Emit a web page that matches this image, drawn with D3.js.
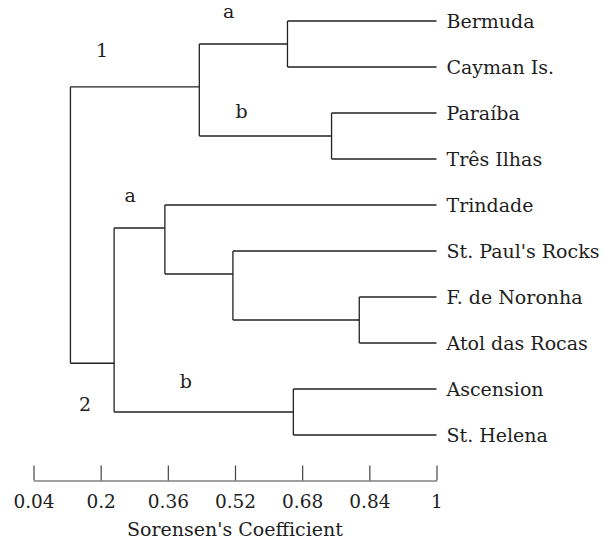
<html>
  <head>
    <meta charset="utf-8">
    <script src="https://d3js.org/d3.v7.min.js"></script>
    <style>
      body {margin:0; background:white;}
      text {font-family: "DejaVu Serif", serif; fill:#1e1e1e;}
    </style>
  </head>
  <body>
    <div id="chart1"></div>
    <script>
      // leaves, top to bottom
      var leaves = ["Bermuda", "Cayman Is.", "Paraíba", "Três Ilhas", "Trindade",
                    "St. Paul's Rocks", "F. de Noronha", "Atol das Rocas", "Ascension", "St. Helena"];

      // internal nodes: children, similarity at join, row position of the join
      var nodeIds   = ["n1a", "n1b", "n1", "nFN", "nSP", "n2a", "n2b", "n2", "root"];
      var nodeKids  = [["Bermuda", "Cayman Is."], ["Paraíba", "Três Ilhas"], ["n1a", "n1b"],
                       ["F. de Noronha", "Atol das Rocas"], ["St. Paul's Rocks", "nFN"],
                       ["Trindade", "nSP"], ["Ascension", "St. Helena"], ["n2a", "n2b"], ["n1", "n2"]];
      var nodeSim   = [0.645, 0.750, 0.435, 0.816, 0.515, 0.353, 0.659, 0.232, 0.128];
      var nodeRow   = [0.5, 2.5, 1.43, 6.5, 5.5, 4.5, 8.5, 7.44, 4.5];

      // group labels
      var groupText = ["a", "1", "b", "a", "b", "2"];
      var groupSim  = [0.505, 0.203, 0.5355, 0.27, 0.403, 0.163];
      var groupRow  = [-0.06, 0.776, 2.115, 3.93, 7.985, 8.47];

      var tickValues = [0.04, 0.2, 0.36, 0.52, 0.68, 0.84, 1];
      var axisTitle = "Sorensen's Coefficient";

      var width = 604, height = 545;

      var svg = d3.select("#chart1")
        .append("svg")
          .attr("width", width)
          .attr("height", height);

      var x = d3.scaleLinear()
        .domain([0.04, 1])
        .range([33.5, 436.5]);

      var y = d3.scaleLinear()
        .domain([0, leaves.length - 1])
        .range([21, 435]);

      // lookup: name -> {sim, row}
      var pos = {};
      leaves.forEach(function(d, i){ pos[d] = {sim: 1, row: i}; });
      nodeIds.forEach(function(d, i){ pos[d] = {sim: nodeSim[i], row: nodeRow[i]}; });

      var links = svg.append("g")
        .attr("stroke", "#222")
        .attr("stroke-width", 1.3)
        .attr("fill", "none");

      nodeIds.forEach(function(id, i){
        var rows = nodeKids[i].map(function(k){ return pos[k].row; });
        links.append("line")
          .attr("x1", x(nodeSim[i])).attr("x2", x(nodeSim[i]))
          .attr("y1", y(d3.min(rows))).attr("y2", y(d3.max(rows)));
        nodeKids[i].forEach(function(k){
          links.append("line")
            .attr("x1", x(nodeSim[i])).attr("x2", x(pos[k].sim))
            .attr("y1", y(pos[k].row)).attr("y2", y(pos[k].row));
        });
      });

      svg.selectAll(".leaf")
        .data(leaves)
        .enter()
        .append("text")
          .attr("class", "leaf")
          .attr("x", x(1) + 10)
          .attr("y", function(d, i){ return y(i); })
          .attr("dy", "0.36em")
          .style("font-size", "19px")
          .text(function(d){ return d; });

      svg.selectAll(".grp")
        .data(groupText)
        .enter()
        .append("text")
          .attr("class", "grp")
          .attr("x", function(d, i){ return x(groupSim[i]); })
          .attr("y", function(d, i){ return y(groupRow[i]); })
          .attr("text-anchor", "middle")
          .style("font-size", "19px")
          .text(function(d){ return d; });

      var axis = d3.axisBottom(x)
        .tickValues(tickValues)
        .tickFormat(function(d){ return String(d); })
        .tickSizeInner(-15)
        .tickSizeOuter(0)
        .tickPadding(14);

      var gAxis = svg.append("g")
        .attr("transform", "translate(0,480.5)")
        .call(axis);
      gAxis.select(".domain").attr("stroke", "#444").attr("stroke-width", 1.2);
      gAxis.selectAll(".tick line").attr("stroke", "#444").attr("stroke-width", 1.2);
      gAxis.selectAll(".tick text")
        .style("font-family", "'DejaVu Serif', serif")
        .style("font-size", "18.5px")
        .attr("fill", "#1e1e1e");

      svg.append("text")
        .attr("x", (x(0.04) + x(1)) / 2)
        .attr("y", 536)
        .attr("text-anchor", "middle")
        .style("font-size", "19px")
        .text(axisTitle);
    </script>
  </body>
</html>
